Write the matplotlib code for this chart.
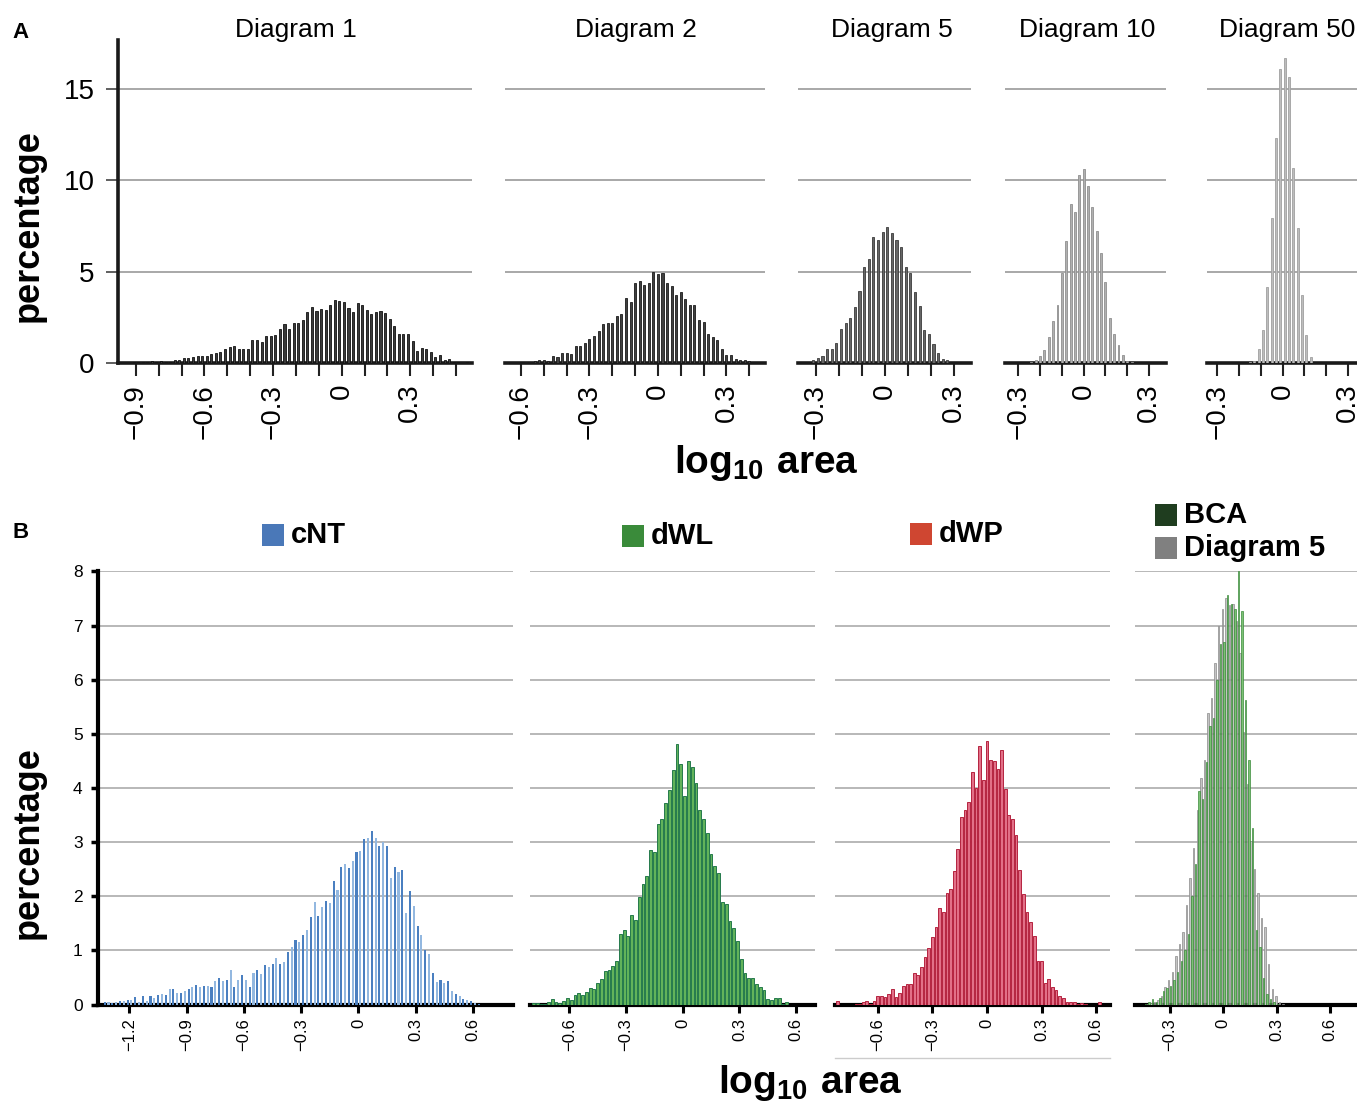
import numpy as np
import matplotlib
matplotlib.use('Agg')
import matplotlib.pyplot as plt
from matplotlib.patches import Rectangle
from matplotlib.lines import Line2D

plt.rcParams['font.family'] = ['Liberation Sans', 'DejaVu Sans']
plt.rcParams['mathtext.fontset'] = 'custom'
plt.rcParams['mathtext.bf'] = 'Liberation Sans:bold'
plt.rcParams['mathtext.rm'] = 'Liberation Sans'

BIN = 0.02

# ---- panel A: bin centre of first bar + percentages per 0.02 bin ----
d1_start = -0.93
d1_vals = [0.01, 0.03, 0.05, 0.07, 0.04, 0.10, 0.08, 0.12, 0.06, 0.08, 0.15, 0.18,
           0.30, 0.30, 0.33, 0.37, 0.37, 0.40, 0.48, 0.55, 0.60, 0.79, 0.88, 0.92,
           0.77, 0.75, 0.77, 1.28, 1.25, 1.15, 1.47, 1.47, 1.52, 1.85, 2.12, 1.85,
           2.18, 2.18, 2.33, 2.80, 3.06, 2.86, 2.97, 2.88, 3.20, 3.44, 3.40, 3.35,
           3.00, 2.78, 3.31, 3.19, 2.91, 2.67, 2.77, 2.82, 2.75, 2.40, 2.03, 1.59,
           1.59, 1.59, 1.23, 0.68, 0.84, 0.79, 0.60, 0.35, 0.42, 0.15, 0.20, 0.06,
           0.08, 0.02, 0.03]
d2_start = -0.58
d2_vals = [0.04, 0.07, 0.10, 0.18, 0.15, 0.10, 0.37, 0.33, 0.57, 0.57,
           0.51, 0.92, 0.95, 1.10, 1.34, 1.50, 1.76, 2.12, 2.20, 2.20,
           2.60, 2.66, 3.57, 3.35, 4.36, 4.50, 4.27, 4.36, 5.00, 4.87,
           4.90, 4.36, 4.20, 3.70, 3.86, 3.48, 3.17, 3.20, 2.34, 2.25,
           1.61, 1.43, 1.25, 0.77, 0.42, 0.42, 0.24, 0.18, 0.15, 0.09]
d5_start = -0.31
d5_vals = [0.15, 0.26, 0.40, 0.79, 0.79, 1.10, 1.88, 2.19, 2.49, 3.07,
           3.95, 5.27, 5.72, 6.90, 6.73, 7.15, 7.46, 7.09, 6.76, 6.36,
           5.27, 4.94, 3.90, 3.11, 1.79, 1.61, 1.02, 0.55, 0.24, 0.18]
d10_start = -0.24
d10_vals = [0.04, 0.18, 0.37, 0.70, 1.43, 2.30, 3.16, 4.90, 6.69, 8.70, 8.28, 10.29,
            10.60, 9.69, 8.56, 7.24, 6.03, 4.44, 2.49, 1.57, 0.97, 0.46, 0.11, 0.04]
d50_start = -0.15
d50_vals = [0.03, 0.09, 0.79, 1.83, 4.17, 7.92, 12.30, 16.10, 16.70, 15.65,
            10.66, 7.37, 3.71, 1.52, 0.33]

titles_a = ['Diagram 1', 'Diagram 2', 'Diagram 5', 'Diagram 10', 'Diagram 50']
ticks_a = [[-0.9, -0.8, -0.7, -0.6, -0.5, -0.4, -0.3, -0.2, -0.1, 0, 0.1, 0.2, 0.3, 0.4, 0.5],
           [-0.6, -0.5, -0.4, -0.3, -0.2, -0.1, 0, 0.1, 0.2, 0.3, 0.4],
           [-0.3, -0.2, -0.1, 0, 0.1, 0.2, 0.3],
           [-0.3, -0.2, -0.1, 0, 0.1, 0.2, 0.3],
           [-0.3, -0.2, -0.1, 0, 0.1, 0.2, 0.3]]
labels_a = [-0.9, -0.6, -0.3, 0, 0.3]
yticks_a = [0, 5, 10, 15]

# ---- panel B ----
cnt_start = -1.33
cnt_vals = [0.04, 0.04, 0.03, 0.05, 0.06, 0.06, 0.09, 0.09, 0.14, 0.04,
            0.15, 0.06, 0.15, 0.12, 0.17, 0.20, 0.17, 0.28, 0.28, 0.22,
            0.22, 0.26, 0.28, 0.32, 0.37, 0.32, 0.35, 0.35, 0.32, 0.43,
            0.50, 0.44, 0.46, 0.63, 0.33, 0.46, 0.55, 0.46, 0.32, 0.58,
            0.63, 0.57, 0.73, 0.69, 0.75, 0.86, 0.75, 0.78, 0.98, 1.06,
            1.20, 1.15, 1.29, 1.37, 1.61, 1.89, 1.63, 1.80, 1.92, 1.87,
            2.29, 2.11, 2.54, 2.60, 2.52, 2.66, 2.82, 2.83, 3.06, 3.08,
            3.20, 3.08, 2.92, 3.00, 2.92, 2.34, 2.54, 2.44, 2.49, 1.70,
            2.09, 1.83, 1.46, 1.29, 1.00, 0.94, 0.58, 0.41, 0.46, 0.39,
            0.43, 0.25, 0.20, 0.15, 0.10, 0.09, 0.06, 0.03, 0.01]
dwl_start = -0.79
dwl_vals = [0.03, 0.03, 0.01, 0.02, 0.05, 0.10, 0.05, 0.03, 0.07, 0.13,
            0.09, 0.17, 0.22, 0.17, 0.24, 0.31, 0.28, 0.39, 0.47, 0.62,
            0.64, 0.72, 0.81, 1.30, 1.37, 1.27, 1.66, 1.56, 1.98, 2.23,
            2.37, 2.85, 2.82, 3.33, 3.42, 3.73, 3.96, 4.33, 4.81, 4.44,
            3.85, 4.50, 4.38, 4.09, 3.59, 3.42, 3.16, 2.79, 2.56, 2.43,
            1.89, 1.86, 1.55, 1.42, 1.18, 0.84, 0.59, 0.50, 0.49, 0.38,
            0.33, 0.27, 0.10, 0.08, 0.13, 0.13, 0.02, 0.04]
dwp_start = -0.82
dwp_vals = [0.07, 0.00, 0.00, 0.00, 0.00, 0.01, 0.02, 0.05, 0.07, 0.02,
            0.07, 0.16, 0.16, 0.14, 0.19, 0.28, 0.14, 0.22, 0.35, 0.38,
            0.38, 0.59, 0.55, 0.69, 0.88, 1.05, 1.24, 1.44, 1.79, 1.71,
            2.06, 2.14, 2.47, 2.88, 3.47, 3.60, 3.75, 4.29, 4.00, 4.77,
            4.15, 4.86, 4.52, 4.49, 4.35, 4.71, 3.99, 3.50, 3.42, 3.13,
            2.48, 2.05, 1.71, 1.52, 1.26, 0.81, 0.80, 0.39, 0.47, 0.33,
            0.27, 0.16, 0.12, 0.04, 0.04, 0.04, 0.01, 0.03, 0.01, 0.00,
            0.00, 0.00, 0.04]
bca_start = -0.44
bca_vals = [0.02, 0.05, 0.10, 0.05, 0.12, 0.25, 0.30, 0.35, 0.45, 0.60,
            0.80, 1.00, 1.30, 2.00, 2.60, 3.95, 3.80, 4.48, 5.14, 5.30,
            6.00, 6.66, 6.70, 7.57, 7.40, 7.30, 8.00, 7.26, 5.63, 4.51,
            3.26, 1.37, 1.07, 0.50, 0.20, 0.10, 0.05, 0.02, 0.00, 0.00]
d5b_vals = [0.00, 0.02, 0.03, 0.05, 0.08, 0.15, 0.32, 0.45, 0.61, 0.90,
            1.11, 1.34, 1.84, 2.33, 2.90, 3.59, 4.18, 4.51, 5.39, 5.67,
            6.30, 7.00, 7.30, 7.50, 7.38, 7.40, 7.09, 6.49, 5.04, 4.08,
            3.02, 2.50, 2.07, 1.60, 1.44, 0.75, 0.28, 0.15, 0.04, 0.01]

names_b = ['cNT', 'dWL', 'dWP']
ticks_cnt = [-1.2, -0.9, -0.6, -0.3, 0, 0.3, 0.6]
ticks_dw = [-0.6, -0.3, 0, 0.3, 0.6]
ticks_bca = [-0.3, 0, 0.3, 0.6]
yticks_b = [0, 1, 2, 3, 4, 5, 6, 7, 8]

W, H = 1357, 1109
fig = plt.figure(figsize=(W / 100, H / 100), dpi=100)


def box(l, t, r, b):
    return [l / W, 1 - b / H, (r - l) / W, (b - t) / H]


def fx(x):
    return x / W


def fy(y):
    return 1 - y / H


def lab(v):
    if abs(v) < 1e-9:
        return '0'
    return ('%.1f' % v).replace('-', '\u2212')


def centres(start, vals):
    return np.round(start + BIN * np.arange(len(vals)), 3)


# ---------------- row A ----------------
a_boxes = [(118, 472), (505, 765), (798, 971), (1005, 1166), (1207, 1368)]
a_xlim = [(-0.978, 0.57), (-0.67, 0.469), (-0.376, 0.372), (-0.361, 0.378), (-0.348, 0.394)]
a_data = [(d1_start, d1_vals), (d2_start, d2_vals), (d5_start, d5_vals),
          (d10_start, d10_vals), (d50_start, d50_vals)]
a_face = ['#3a3a3a', '#404040', '#666666', '#b0b0b0', '#bdbdbd']
a_edge = ['#111111', '#1a1a1a', '#3a3a3a', '#8f8f8f', '#a0a0a0']
a_title_x = [296, 636, 892, 1087, 1287]

for i in range(5):
    ax = fig.add_axes(box(a_boxes[i][0], 40, a_boxes[i][1], 363))
    st, vals = a_data[i]
    ax.bar(centres(st, vals), vals, width=0.009, color=a_face[i],
           edgecolor=a_edge[i], linewidth=0.6, zorder=3)
    ax.set_xlim(*a_xlim[i])
    ax.set_ylim(0, 17.68)
    ax.set_yticks(yticks_a)
    ax.grid(axis='y', color='#9a9a9a', linewidth=1.2, zorder=0)
    ax.set_axisbelow(True)
    for s in ['top', 'right']:
        ax.spines[s].set_visible(False)
    ax.spines['bottom'].set_linewidth(2.6)
    ax.spines['bottom'].set_color('#1a1a1a')
    ax.set_xticks(ticks_a[i])
    ax.set_xticklabels([lab(t) if any(abs(t - l) < 1e-9 for l in labels_a) else ''
                        for t in ticks_a[i]], rotation=90, fontsize=20)
    ax.tick_params(axis='x', length=9, width=1.5, color='#222222', pad=6)
    if i == 0:
        ax.spines['left'].set_linewidth(2.6)
        ax.spines['left'].set_color('#1a1a1a')
        ax.set_yticklabels([str(v) for v in yticks_a], fontsize=20)
        ax.tick_params(axis='y', length=9, width=1.2, color='#444444', pad=8)
    else:
        ax.spines['left'].set_visible(False)
        ax.tick_params(axis='y', length=0, labelleft=False)
    fig.text(fx(a_title_x[i]), fy(30), titles_a[i], ha='center', va='center', fontsize=19)

fig.text(fx(12), fy(33), 'A', fontsize=16, fontweight='bold', va='center')
fig.text(fx(28), fy(226), 'percentage', rotation=90, fontsize=26, fontweight='bold',
         ha='center', va='center')
fig.text(fx(766), fy(463), r'$\mathbf{log_{10}\ area}$', fontsize=28,
         ha='center', va='center')

# ---------------- row B ----------------
b_boxes = [(98, 513), (530, 815), (835, 1110), (1135, 1370)]
b_xlim = [(-1.365, 0.81), (-0.808, 0.70), (-0.835, 0.676), (-0.494, 0.822)]
b_ticks = [ticks_cnt, ticks_dw, ticks_dw, ticks_bca]

axs = []
for i in range(4):
    ax = fig.add_axes(box(b_boxes[i][0], 571.4, b_boxes[i][1], 1004.6))
    ax.set_xlim(*b_xlim[i])
    ax.set_ylim(0, 8)
    ax.set_yticks(yticks_b)
    ax.grid(axis='y', color='#b8b8b8', linewidth=1.4, zorder=0)
    ax.set_axisbelow(True)
    for s in ['top', 'right']:
        ax.spines[s].set_visible(False)
    ax.spines['bottom'].set_linewidth(3)
    ax.spines['bottom'].set_color('black')
    ax.set_xticks(b_ticks[i])
    ax.set_xticklabels([lab(t) for t in b_ticks[i]], rotation=90, fontsize=12)
    ax.tick_params(axis='x', length=6, width=2.2, color='black', pad=4)
    if i == 0:
        ax.spines['left'].set_linewidth(3)
        ax.set_yticklabels([str(v) for v in yticks_b], fontsize=12.5)
        ax.tick_params(axis='y', length=5, width=2.5, pad=6)
    else:
        ax.spines['left'].set_visible(False)
        ax.tick_params(axis='y', length=0, labelleft=False)
    axs.append(ax)

cx = centres(cnt_start, cnt_vals)
axs[0].bar(cx, cnt_vals, width=0.011,
           color=['#4a7fc0' if k % 2 == 0 else '#93b8e0' for k in range(len(cnt_vals))],
           linewidth=0, zorder=3)
axs[1].bar(centres(dwl_start, dwl_vals), dwl_vals, width=0.015, color='#62b35a',
           edgecolor='#247a4c', linewidth=0.7, zorder=3)
axs[2].bar(centres(dwp_start, dwp_vals), dwp_vals, width=0.015, color='#e27088',
           edgecolor='#b5233f', linewidth=0.7, zorder=3)
bx = centres(bca_start, bca_vals)
axs[3].bar(bx - 0.005, d5b_vals, width=0.008, color='#c4c4c4', edgecolor='#8a8a8a',
           linewidth=0.5, zorder=3)
axs[3].bar(bx + 0.005, bca_vals, width=0.008, color='#7cc274', edgecolor='#3b8a3b',
           linewidth=0.5, zorder=3)

# legend-like headers
heads = [(262, 535, '#4a78b8', 'cNT'), (622, 536, '#3a8b3a', 'dWL'),
         (910, 534, '#cf4631', 'dWP'), (1155, 515, '#1f3d1f', 'BCA'),
         (1155, 548, '#808080', 'Diagram 5')]
for x0, yc, col, txt in heads:
    fig.add_artist(Rectangle((fx(x0), fy(yc + 11)), 22 / W, 22 / H,
                             transform=fig.transFigure, facecolor=col, edgecolor='none'))
    fig.text(fx(x0 + 29), fy(yc), txt, fontsize=21, fontweight='bold',
             ha='left', va='center')

fig.add_artist(Line2D([fx(835), fx(1110)], [fy(1058), fy(1058)],
                      transform=fig.transFigure, color='#cccccc', linewidth=1))

fig.text(fx(12), fy(532), 'B', fontsize=16, fontweight='bold', va='center')
fig.text(fx(28), fy(843), 'percentage', rotation=90, fontsize=26, fontweight='bold',
         ha='center', va='center')
fig.text(fx(810), fy(1083), r'$\mathbf{log_{10}\ area}$', fontsize=28,
         ha='center', va='center')

fig.savefig('out.png', dpi=100)
